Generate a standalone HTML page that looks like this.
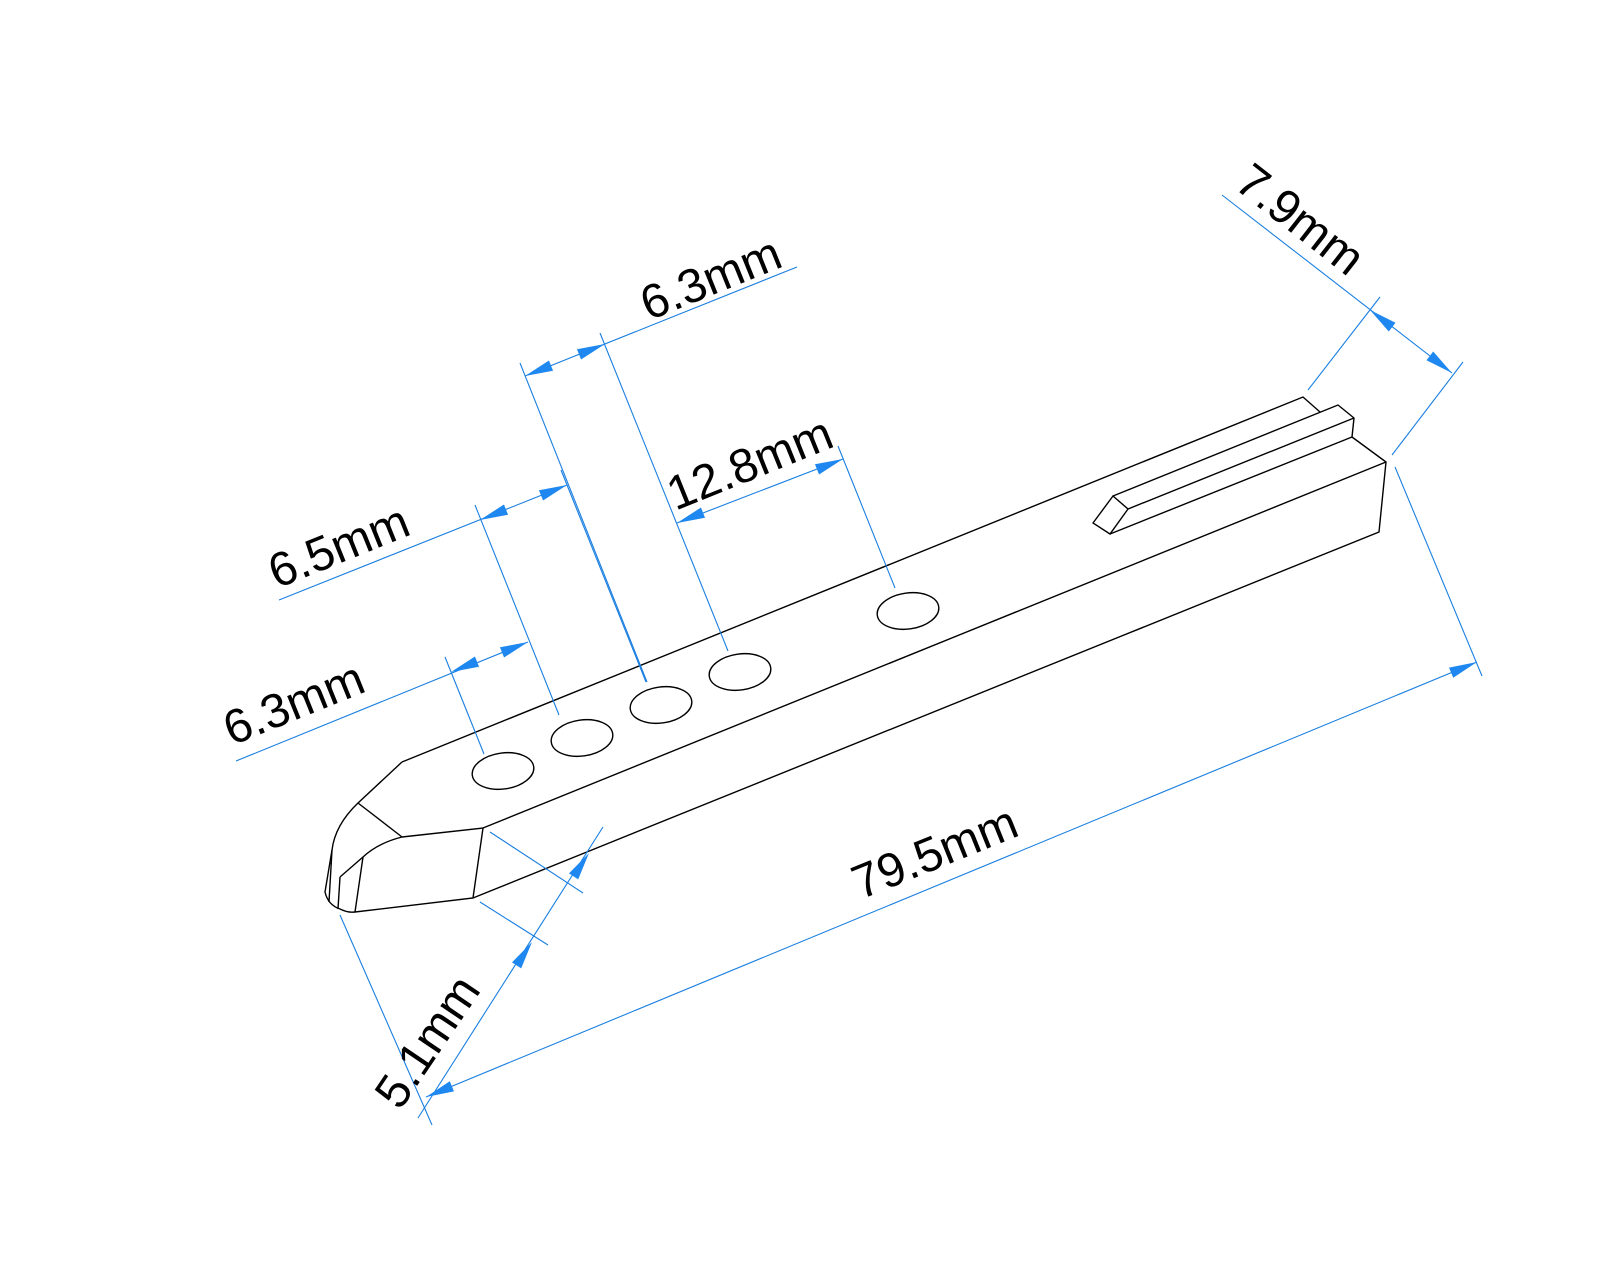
<!DOCTYPE html>
<html><head><meta charset="utf-8"><style>html,body{margin:0;padding:0;background:#fff}svg{display:block}</style></head>
<body>
<svg width="1600" height="1280" viewBox="0 0 1600 1280" xmlns="http://www.w3.org/2000/svg">
<defs><polygon id="ah" points="0,0 -28,-5.5 -28,5.5"/></defs>
<rect width="1600" height="1280" fill="#fff"/>
<g fill="none" stroke="#000" stroke-width="1.4">
<path d="M402,762 L1303,397 L1320,412"/>
<path d="M1113,496 L1338,405 L1354,418 L1352,437 L1386,462 L1379,532 L473,898"/>
<path d="M1128,509 L1354,418 M1110,534 L1352,437"/>
<path d="M1093,523 L1113,496 L1128,509 L1110,534 Z"/>
<path d="M483,828 L1386,462"/>
<path d="M402,762 L358,803 Q335,825 332,850 L325,892 Q328,905 340,909 Q348,913 355,912 L473,898 L483,828 L402,837 Q378,843 363,857 L340,877"/>
<path d="M358,803 L402,837 M363,857 L355,912 M340,877 L338,909 M332,850 L329,902"/>
<ellipse cx="503" cy="771" rx="31" ry="18" transform="rotate(-8 503 771)"/>
<ellipse cx="582" cy="738" rx="31" ry="18" transform="rotate(-8 582 738)"/>
<ellipse cx="661" cy="705" rx="31" ry="18" transform="rotate(-8 661 705)"/>
<ellipse cx="740" cy="672" rx="31" ry="18" transform="rotate(-8 740 672)"/>
<ellipse cx="908" cy="611" rx="31" ry="18" transform="rotate(-8 908 611)"/>
</g>
<g fill="none" stroke="#1a7fe0" stroke-width="1.1">
<path d="M236,761 L528,642 M445,657 L484,754 M475,505 L559,715"/>
<path d="M279,600 L567,485 M561,470 L646,682"/>
<path d="M525,376 L797,267 M520,363 L647,682 M600,333 L728,651"/>
<path d="M677,523 L843,459 M838,446 L895,588"/>
<path d="M426,1097 L1477,662 M1395,467 L1482,676 M340,915 L432,1125"/>
<path d="M1222,195 L1452,373 M1380,297 L1308,390 M1463,362 L1392,455"/>
<path d="M603,827 L418,1118 M490,832 L583,893 M480,902 L548,945"/>
</g>
<g fill="#1e88f0">
<use href="#ah" transform="translate(451,672) rotate(158.2)"/>
<use href="#ah" transform="translate(528,642) rotate(-21.8)"/>
<use href="#ah" transform="translate(480,520) rotate(158.2)"/>
<use href="#ah" transform="translate(567,485) rotate(-21.8)"/>
<use href="#ah" transform="translate(525,376) rotate(158.2)"/>
<use href="#ah" transform="translate(605,344) rotate(-21.8)"/>
<use href="#ah" transform="translate(677,523) rotate(158.2)"/>
<use href="#ah" transform="translate(843,459) rotate(-21.8)"/>
<use href="#ah" transform="translate(426,1097) rotate(157.5)"/>
<use href="#ah" transform="translate(1477,662) rotate(-22.5)"/>
<use href="#ah" transform="translate(1370,310) rotate(217.7)"/>
<use href="#ah" transform="translate(1452,373) rotate(37.7)"/>
<use href="#ah" transform="translate(589,853) rotate(-56.6)"/>
<use href="#ah" transform="translate(532,942) rotate(-56.6)"/>
</g>
<g font-family="Liberation Sans, Arial, sans-serif" font-size="48" fill="#000" text-anchor="middle" dominant-baseline="central">
<text x="294" y="704" transform="rotate(-22 294 704)">6.3mm</text>
<text x="339" y="547" transform="rotate(-22 339 547)">6.5mm</text>
<text x="711" y="279" transform="rotate(-22 711 279)">6.3mm</text>
<text x="750" y="464" transform="rotate(-22 750 464)">12.8mm</text>
<text x="935" y="853" transform="rotate(-22 935 853)">79.5mm</text>
<text x="1300" y="220" transform="rotate(38 1300 220)">7.9mm</text>
<text x="428" y="1042" transform="rotate(-56 428 1042)">5.1mm</text>
</g>
</svg>
</body></html>
